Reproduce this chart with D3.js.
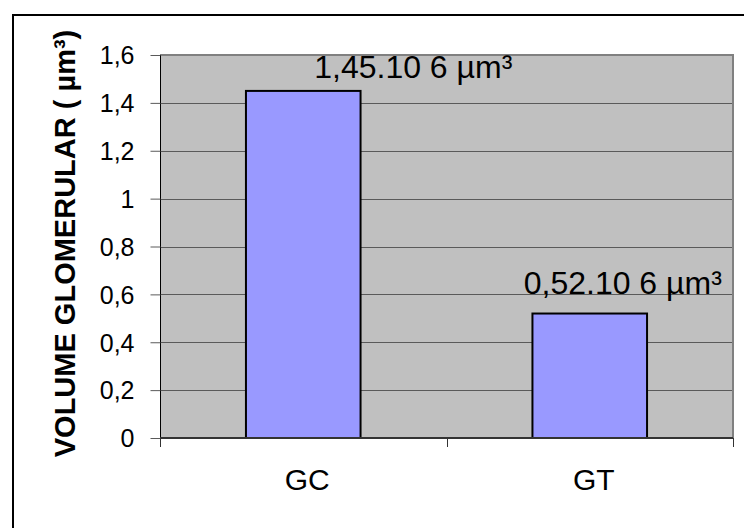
<!DOCTYPE html>
<html>
<head>
<meta charset="utf-8">
<script src="https://cdn.jsdelivr.net/npm/d3@7"></script>
<style>
  html, body { margin: 0; padding: 0; background: #fff; }
  svg { display: block; }
  text { font-family: "Liberation Sans", Arial, sans-serif; fill: #000; }
</style>
</head>
<body>
<svg id="chart" width="744" height="528"></svg>
<script>
// ---- data ----
const categories = ["GC", "GT"];
const values = [1.45, 0.52];
const valueLabels = ["1,45.10 6 µm³", "0,52.10 6 µm³"];
const yTicks = [0, 0.2, 0.4, 0.6, 0.8, 1, 1.2, 1.4, 1.6];
const yTitle = "VOLUME GLOMERULAR ( µm³)";

// ---- layout ----
const W = 744, H = 528;
const plot = { left: 160, top: 55, right: 733, bottom: 438 };
const labelDx = [110, 33];   // manual offsets of the value labels from bar centres
const labelDy = [-13, -20];
const fmt = v => String(v).replace(".", ",");

const svg = d3.select("#chart");

// outer frame (only top/left visible in the reference)
svg.append("rect")
  .attr("x", 13).attr("y", 15)
  .attr("width", W + 20).attr("height", H + 20)
  .attr("fill", "none").attr("stroke", "#000").attr("stroke-width", 2);

const x = d3.scaleBand().domain(categories)
  .range([plot.left, plot.right]).paddingInner(0.6).paddingOuter(0.3);
const xOuter = d3.scaleBand().domain(categories).range([plot.left, plot.right]);
const y = d3.scaleLinear().domain([0, 1.6]).range([plot.bottom, plot.top]);

// plot background
svg.append("rect")
  .attr("x", plot.left).attr("y", plot.top)
  .attr("width", plot.right - plot.left).attr("height", plot.bottom - plot.top)
  .attr("fill", "#C0C0C0");

// gridlines
svg.append("g").selectAll("line")
  .data(yTicks.filter(t => t > 0 && t < 1.6))
  .join("line")
  .attr("x1", plot.left).attr("x2", plot.right)
  .attr("y1", d => Math.round(y(d)) + 0.5).attr("y2", d => Math.round(y(d)) + 0.5)
  .attr("stroke", "#5a5a5a").attr("stroke-width", 1);

// plot border top/right
svg.append("path")
  .attr("d", `M${plot.left},${plot.top} H${plot.right} V${plot.bottom}`)
  .attr("fill", "none").attr("stroke", "#808080").attr("stroke-width", 2);

// y axis
const yAxis = d3.axisLeft(y).tickValues(yTicks).tickFormat(fmt).tickSize(10).tickPadding(16);
const gy = svg.append("g").attr("transform", `translate(${plot.left + 0.5},0)`).call(yAxis);
gy.select(".domain").attr("stroke", "#000").attr("stroke-width", 1)
  .attr("d", `M0,${plot.top}V${plot.bottom + 9}`);
gy.selectAll(".tick line").attr("stroke", "#5a5a5a");
gy.selectAll(".tick text").attr("font-size", 25)
  .attr("font-family", "'Liberation Sans', Arial, sans-serif").attr("fill", "#000").attr("dy", "0.35em");

// bars
svg.append("g").selectAll("rect")
  .data(categories)
  .join("rect")
  .attr("x", d => x(d)).attr("width", x.bandwidth())
  .attr("y", (d, i) => y(values[i])).attr("height", (d, i) => y(0) - y(values[i]))
  .attr("fill", "#9999FF").attr("stroke", "#000").attr("stroke-width", 2);

// x axis line
svg.append("line")
  .attr("x1", plot.left).attr("x2", plot.right)
  .attr("y1", plot.bottom).attr("y2", plot.bottom)
  .attr("stroke", "#333").attr("stroke-width", 2);

// x axis ticks at category boundaries
const bounds = [plot.left, ...categories.map(c => xOuter(c) + xOuter.bandwidth())];
svg.append("g").selectAll("line")
  .data(bounds)
  .join("line")
  .attr("x1", d => Math.round(d) + 0.5).attr("x2", d => Math.round(d) + 0.5)
  .attr("y1", plot.bottom).attr("y2", plot.bottom + 9)
  .attr("stroke", "#333").attr("stroke-width", 1);

// category labels
svg.append("g").selectAll("text")
  .data(categories)
  .join("text")
  .attr("x", d => xOuter(d) + xOuter.bandwidth() / 2 + 4)
  .attr("y", 490)
  .attr("text-anchor", "middle").attr("font-size", 30)
  .text(d => d);

// value labels
svg.append("g").selectAll("text")
  .data(categories)
  .join("text")
  .attr("x", (d, i) => x(d) + x.bandwidth() / 2 + labelDx[i])
  .attr("y", (d, i) => y(values[i]) + labelDy[i])
  .attr("text-anchor", "middle").attr("font-size", 32)
  .text((d, i) => valueLabels[i]);

// y title
svg.append("text")
  .attr("transform", `translate(75,${(27 + 460) / 2}) rotate(-90)`)
  .attr("text-anchor", "middle").attr("font-size", 29).attr("font-weight", "bold")
  .text(yTitle);
</script>
</body>
</html>
